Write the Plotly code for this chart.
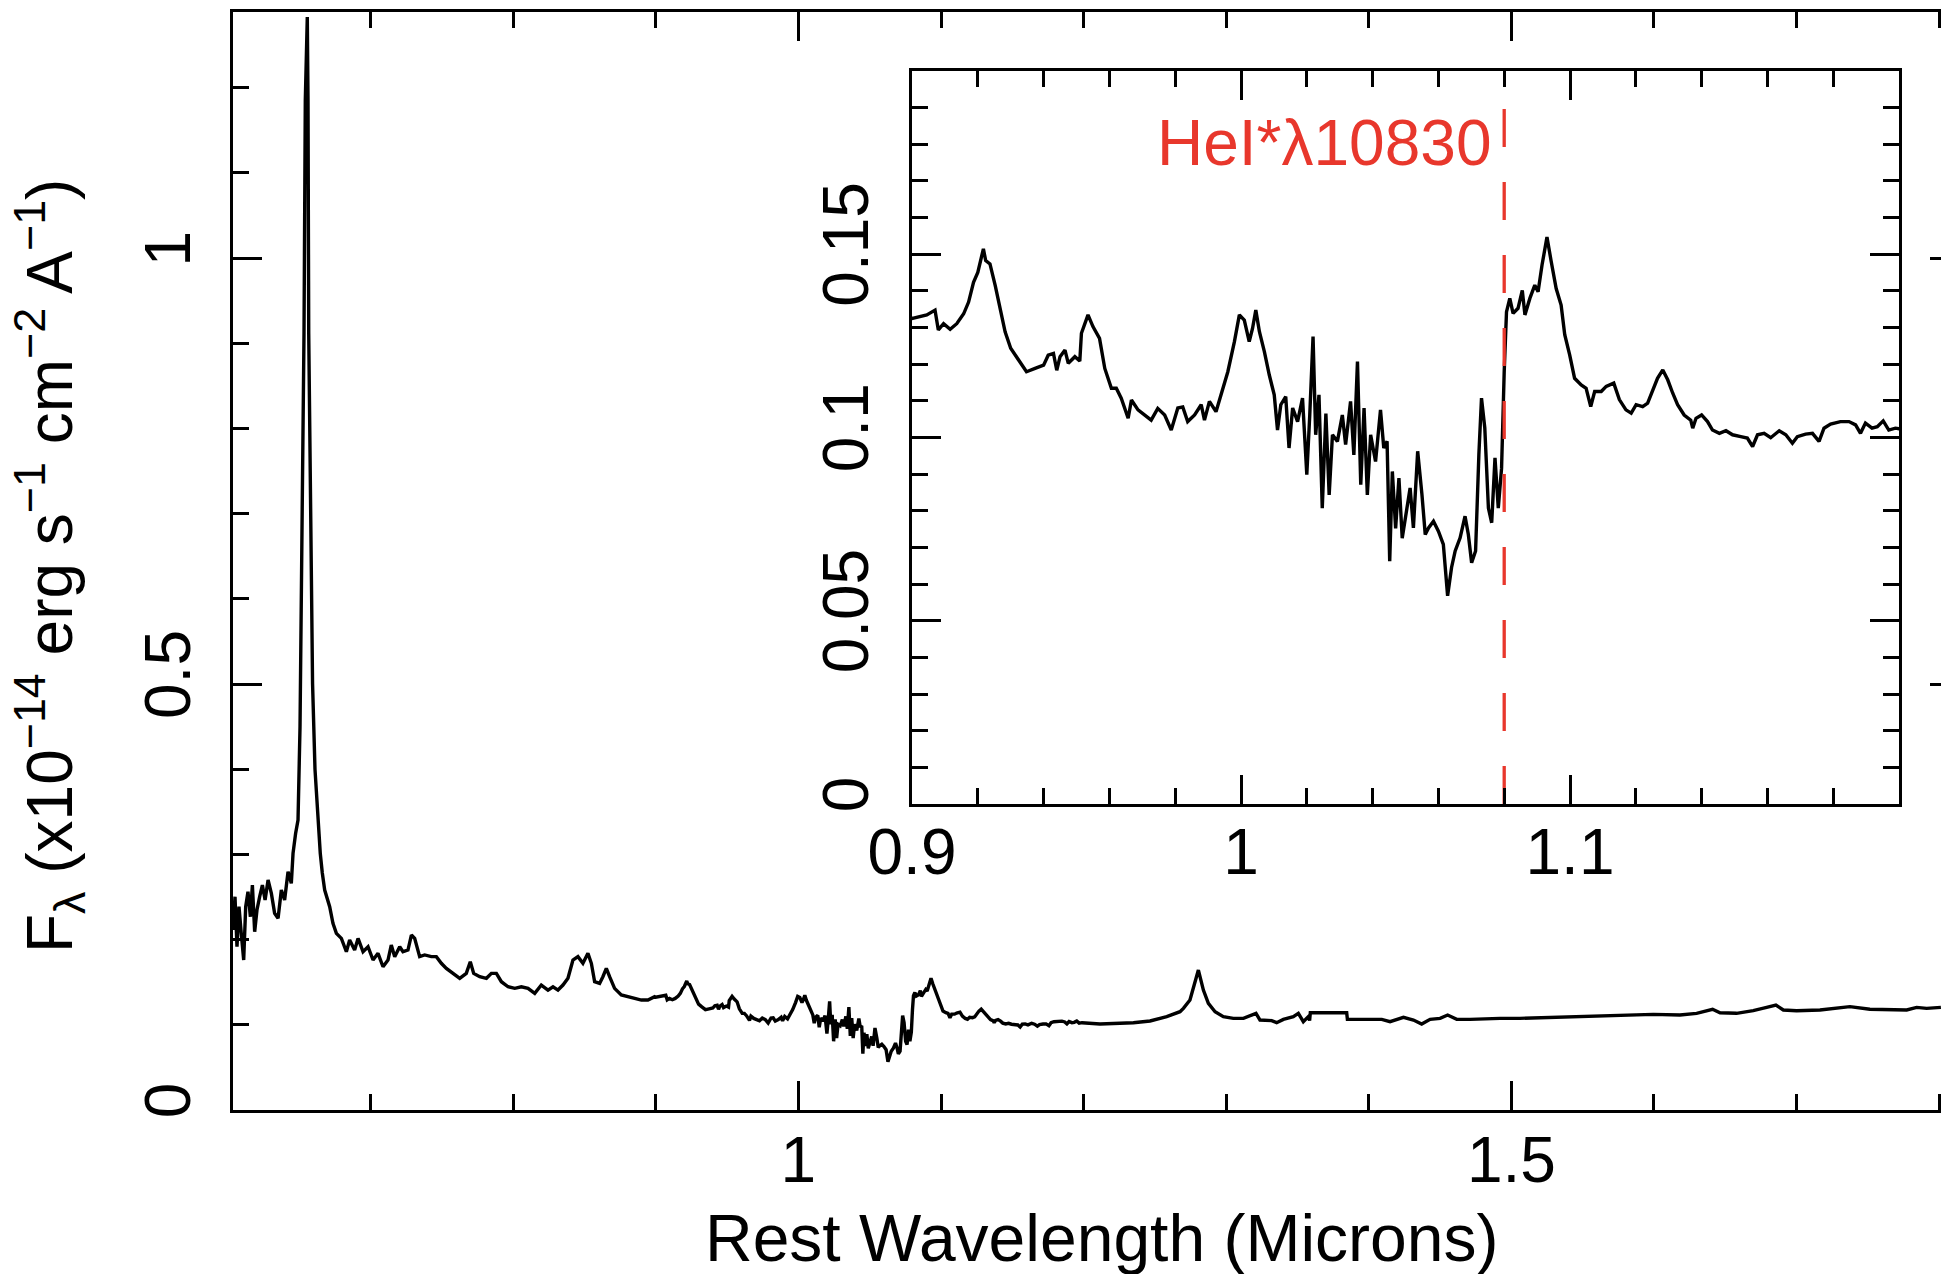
import plotly.graph_objects as go

W, H = 1975, 1274   # the picture shows the left 1941 px; the main box ends just past the edge

# ---------------- data ----------------
# rest wavelength (microns) / flux (1e-14 erg s-1 cm-2 A-1), blue part incl. H-alpha
wave_blue = [0.6035, 0.6049, 0.6063, 0.6077, 0.6093, 0.6110, 0.6124, 0.6140, 0.6157, 0.6171,
             0.6187, 0.6203, 0.6222, 0.6241, 0.6260, 0.6281, 0.6304, 0.6327, 0.6351, 0.6374,
             0.6397, 0.6421, 0.6444, 0.6456, 0.6474, 0.6491, 0.6505, 0.6514, 0.6521, 0.6533,
             0.6542, 0.6556, 0.6561, 0.6566, 0.6578, 0.6593, 0.6610, 0.6631, 0.6647, 0.6661,
             0.6678, 0.6713, 0.6736, 0.6760, 0.6795, 0.6830, 0.6853, 0.6888, 0.6912, 0.6947,
             0.6982, 0.7017, 0.7052, 0.7087, 0.7122, 0.7145, 0.7169, 0.7204, 0.7227, 0.7262,
             0.7286, 0.7309, 0.7344, 0.7379, 0.7426, 0.7461, 0.7496, 0.7531, 0.7578, 0.7625,
             0.7671, 0.7699, 0.7723, 0.7765, 0.7812, 0.7847, 0.7882, 0.7917, 0.7964, 0.8011,
             0.8057, 0.8104, 0.8151, 0.8197, 0.8244, 0.8279, 0.8314, 0.8349, 0.8384, 0.8419,
             0.8454, 0.8489, 0.8524, 0.8548, 0.8571, 0.8606, 0.8629, 0.8653, 0.8676, 0.8711,
             0.8758, 0.8805, 0.8852, 0.8899, 0.8945, 0.8992]
flux_blue = [0.2113, 0.2504, 0.1917, 0.2387, 0.2074, 0.1761, 0.2387, 0.2563, 0.2269, 0.2641,
             0.2093, 0.2348, 0.2504, 0.2641, 0.2465, 0.2700, 0.2543, 0.2309, 0.2250, 0.2582,
             0.2465, 0.2798, 0.2661, 0.3013, 0.3247, 0.3404, 0.4500, 0.5700, 0.7160, 0.9120,
             1.1850, 1.2830, 1.1850, 0.9120, 0.7160, 0.5000, 0.4000, 0.3400, 0.3013, 0.2786,
             0.2582, 0.2387, 0.2191, 0.2074, 0.2015, 0.1858, 0.1995, 0.1878, 0.2015, 0.1858,
             0.1917, 0.1761, 0.1839, 0.1682, 0.1761, 0.1937, 0.1800, 0.1917, 0.1858, 0.1878,
             0.2054, 0.2015, 0.1800, 0.1820, 0.1800, 0.1800, 0.1722, 0.1663, 0.1604, 0.1546,
             0.1604, 0.1741, 0.1604, 0.1565, 0.1546, 0.1604, 0.1604, 0.1506, 0.1447, 0.1428,
             0.1447, 0.1428, 0.1369, 0.1467, 0.1408, 0.1447, 0.1408, 0.1467, 0.1546, 0.1761,
             0.1800, 0.1722, 0.1839, 0.1722, 0.1506, 0.1486, 0.1565, 0.1663, 0.1565, 0.1428,
             0.1350, 0.1330, 0.1311, 0.1291, 0.1291, 0.1330]

# 0.9 - 1.2 micron part (shown in the inset as well)
wave_mid = [0.9000, 0.9020, 0.9045, 0.9070, 0.9080, 0.9096, 0.9116, 0.9136, 0.9157, 0.9172,
            0.9187, 0.9200, 0.9217, 0.9224, 0.9237, 0.9253, 0.9268, 0.9283, 0.9300, 0.9323,
            0.9348, 0.9374, 0.9400, 0.9414, 0.9430, 0.9440, 0.9450, 0.9465, 0.9475, 0.9495,
            0.9510, 0.9515, 0.9535, 0.9550, 0.9570, 0.9586, 0.9606, 0.9621, 0.9636, 0.9657,
            0.9667, 0.9687, 0.9707, 0.9727, 0.9747, 0.9768, 0.9788, 0.9808, 0.9823, 0.9838,
            0.9859, 0.9879, 0.9889, 0.9904, 0.9924, 0.9939, 0.9960, 0.9980, 0.9995, 1.0010,
            1.0025, 1.0035, 1.0045, 1.0056, 1.0071, 1.0086, 1.0101, 1.0111, 1.0121, 1.0136,
            1.0146, 1.0157, 1.0172, 1.0187, 1.0200, 1.0209, 1.0219, 1.0227, 1.0237, 1.0247,
            1.0258, 1.0268, 1.0278, 1.0293, 1.0308, 1.0318, 1.0333, 1.0343, 1.0354, 1.0364,
            1.0374, 1.0384, 1.0394, 1.0409, 1.0424, 1.0434, 1.0444, 1.0452, 1.0460, 1.0470,
            1.0480, 1.0490, 1.0514, 1.0524, 1.0537, 1.0550, 1.0560, 1.0570, 1.0585, 1.0600,
            1.0615, 1.0628, 1.0640, 1.0651, 1.0666, 1.0681, 1.0691, 1.0701, 1.0713, 1.0723,
            1.0731, 1.0741, 1.0752, 1.0762, 1.0772, 1.0782, 1.0792, 1.0800, 1.0807, 1.0817,
            1.0827, 1.0842, 1.0855, 1.0863, 1.0878, 1.0893, 1.0903, 1.0915, 1.0930, 1.0943,
            1.0958, 1.0973, 1.0984, 1.0999, 1.1014, 1.1034, 1.1049, 1.1063, 1.1075, 1.1095,
            1.1110, 1.1133, 1.1150, 1.1170, 1.1186, 1.1201, 1.1221, 1.1236, 1.1251, 1.1266,
            1.1282, 1.1297, 1.1312, 1.1327, 1.1347, 1.1367, 1.1373, 1.1383, 1.1400, 1.1418,
            1.1433, 1.1454, 1.1474, 1.1494, 1.1519, 1.1539, 1.1555, 1.1570, 1.1590, 1.1610,
            1.1636, 1.1656, 1.1676, 1.1691, 1.1716, 1.1737, 1.1757, 1.1772, 1.1792, 1.1822,
            1.1848, 1.1868, 1.1883, 1.1898, 1.1918, 1.1934, 1.1952, 1.1969, 1.1989]
flux_mid = [0.1324, 0.1329, 0.1334, 0.1347, 0.1293, 0.1310, 0.1295, 0.1310, 0.1337, 0.1369,
            0.1423, 0.1450, 0.1514, 0.1482, 0.1473, 0.1414, 0.1350, 0.1288, 0.1243, 0.1211,
            0.1179, 0.1188, 0.1197, 0.1224, 0.1229, 0.1183, 0.1220, 0.1238, 0.1202, 0.1220,
            0.1208, 0.1284, 0.1334, 0.1302, 0.1270, 0.1188, 0.1134, 0.1134, 0.1107, 0.1052,
            0.1102, 0.1075, 0.1061, 0.1047, 0.1079, 0.1061, 0.1020, 0.1080, 0.1083, 0.1043,
            0.1061, 0.1089, 0.1047, 0.1098, 0.1070, 0.1116, 0.1179, 0.1261, 0.1334, 0.1320,
            0.1261, 0.1297, 0.1347, 0.1288, 0.1234, 0.1170, 0.1116, 0.1020, 0.1089, 0.1111,
            0.0971, 0.1080, 0.1043, 0.1107, 0.0898, 0.1061, 0.1275, 0.1007, 0.1116, 0.0807,
            0.1065, 0.0843, 0.1007, 0.0989, 0.1061, 0.0980, 0.1098, 0.0952, 0.1207, 0.0871,
            0.1080, 0.0843, 0.1007, 0.0934, 0.1075, 0.0971, 0.0989, 0.0662, 0.0907, 0.0752,
            0.0889, 0.0725, 0.0862, 0.0753, 0.0962, 0.0844, 0.0735, 0.0753, 0.0771, 0.0744,
            0.0708, 0.0568, 0.0645, 0.0690, 0.0726, 0.0785, 0.0735, 0.0658, 0.0690, 0.0953,
            0.1107, 0.1026, 0.0807, 0.0767, 0.0944, 0.0807, 0.0916, 0.1179, 0.1342, 0.1379,
            0.1338, 0.1352, 0.1401, 0.1334, 0.1379, 0.1415, 0.1397, 0.1470, 0.1546, 0.1479,
            0.1406, 0.1361, 0.1280, 0.1225, 0.1161, 0.1143, 0.1134, 0.1084, 0.1125, 0.1125,
            0.1139, 0.1148, 0.1103, 0.1075, 0.1066, 0.1089, 0.1084, 0.1093, 0.1130, 0.1161,
            0.1184, 0.1157, 0.1121, 0.1089, 0.1061, 0.1047, 0.1025, 0.1052, 0.1061, 0.1043,
            0.1020, 0.1011, 0.1018, 0.1007, 0.1002, 0.0998, 0.0975, 0.1007, 0.1011, 0.0999,
            0.1018, 0.1007, 0.0984, 0.1002, 0.1009, 0.1011, 0.0989, 0.1025, 0.1036, 0.1043,
            0.1043, 0.1034, 0.1011, 0.1039, 0.1025, 0.1029, 0.1045, 0.1020, 0.1025]

# red part incl. Pa-beta
wave_red = [1.2115, 1.2232, 1.2349, 1.2466, 1.2583, 1.2676, 1.2700, 1.2746, 1.2782, 1.2805,
            1.2840, 1.2875, 1.2922, 1.2980, 1.3050, 1.3121, 1.3209, 1.3237, 1.3319, 1.3354,
            1.3401, 1.3471, 1.3506, 1.3541, 1.3576, 1.3585, 1.3590, 1.3845, 1.3850, 1.4091,
            1.4149, 1.4243, 1.4313, 1.4371, 1.4430, 1.4500, 1.4553, 1.4617, 1.4710, 1.4804,
            1.4920, 1.5060, 1.5294, 1.5528, 1.5761, 1.5995, 1.6182, 1.6299, 1.6411, 1.6463,
            1.6579, 1.6696, 1.6790, 1.6855, 1.6907, 1.7000, 1.7164, 1.7304, 1.7374, 1.7514,
            1.7678, 1.7772, 1.7842, 1.7912, 1.8012]
flux_red = [0.1010, 0.1017, 0.1025, 0.1045, 0.1096, 0.1154, 0.1193, 0.1291, 0.1526, 0.1643,
            0.1408, 0.1252, 0.1154, 0.1096, 0.1076, 0.1076, 0.1135, 0.1056, 0.1049, 0.1025,
            0.1064, 0.1096, 0.1135, 0.1037, 0.1096, 0.1050, 0.1142, 0.1142, 0.1064, 0.1064,
            0.1037, 0.1088, 0.1056, 0.1009, 0.1064, 0.1076, 0.1115, 0.1064, 0.1064, 0.1072,
            0.1076, 0.1076, 0.1088, 0.1096, 0.1115, 0.1123, 0.1115, 0.1135, 0.1182, 0.1142,
            0.1135, 0.1166, 0.1205, 0.1232, 0.1174, 0.1166, 0.1174, 0.1205, 0.1213, 0.1182,
            0.1182, 0.1174, 0.1205, 0.1193, 0.1205]

# axes ticks / labels
main_x_range = [0.6035, 1.8139]
main_y_range = [0.0, 1.289]
main_x_ticks = [1.0, 1.5]
main_x_ticktext = ["1", "1.5"]
main_x_minor = [0.7, 0.8, 0.9, 1.1, 1.2, 1.3, 1.4, 1.6, 1.7, 1.8]
main_y_ticks = [0.0, 0.5, 1.0]
main_y_ticktext = ["0", "0.5", "1"]
main_y_minor = [0.1, 0.2, 0.3, 0.4, 0.6, 0.7, 0.8, 0.9, 1.1, 1.2]

inset_x_range = [0.9, 1.2]
inset_y_range = [0.0, 0.2]
inset_x_ticks = [0.9, 1.0, 1.1]
inset_x_ticktext = ["0.9", "1", "1.1"]
inset_x_minor = [0.92, 0.94, 0.96, 0.98, 1.02, 1.04, 1.06, 1.08, 1.12, 1.14, 1.16, 1.18]
inset_y_ticks = [0.0, 0.05, 0.1, 0.15, 0.2]
inset_y_ticktext = ["0", "0.05", "0.1", "0.15", ""]
inset_y_minor = [0.01, 0.02, 0.03, 0.04, 0.06, 0.07, 0.08, 0.09,
                 0.11, 0.12, 0.13, 0.14, 0.16, 0.17, 0.18, 0.19]

hei_wave = 1.08
hei_line_top = 0.19
hei_label = "HeI*λ10830"
hei_label_y = 0.1804

x_title = "Rest Wavelength (Microns)"
y_title = "F<sub>λ</sub> (x10<sup>−14</sup> erg s<sup>−1</sup> cm<sup>−2</sup> A<sup>−1</sup>)"

# ---------------- figure ----------------
FONT = "Liberation Sans, Arial, Helvetica, sans-serif"
FS = 64
RED = "#e8372c"
LW = 3.4

wave = wave_blue + wave_mid + wave_red
flux = flux_blue + flux_mid + flux_red

fig = go.Figure()
fig.add_trace(go.Scatter(x=wave, y=flux, mode="lines",
                         line=dict(color="black", width=LW), xaxis="x", yaxis="y",
                         showlegend=False, hoverinfo="skip"))
fig.add_trace(go.Scatter(x=wave, y=flux, mode="lines",
                         line=dict(color="black", width=LW), xaxis="x2", yaxis="y2",
                         showlegend=False, hoverinfo="skip"))
fig.add_trace(go.Scatter(x=[hei_wave, hei_wave], y=[0, hei_line_top], mode="lines",
                         line=dict(color=RED, width=3.3, dash="38px,35px"),
                         xaxis="x2", yaxis="y2", showlegend=False, hoverinfo="skip"))

L, R, T, B = 233, 1959, 12, 1110          # main plot box (px)
iL, iR, iT, iB = 912, 1899, 70.7, 804     # inset box (px)

axis_common = dict(showgrid=False, zeroline=False, showline=True, linecolor="black",
                   linewidth=2.8, ticks="inside", tickcolor="black", tickwidth=2.6,
                   ticklen=29, tickfont=dict(family=FONT, size=FS, color="black"),
                   tickmode="array", automargin=False, mirror="ticks")
minor_common = dict(tickmode="array", ticks="inside", ticklen=16, tickwidth=2.6,
                    tickcolor="black")

fig.update_layout(
    template="none",
    width=W, height=H, autosize=False,
    margin=dict(l=0, r=0, t=0, b=0, pad=0),
    paper_bgcolor="white", plot_bgcolor="white",
    font=dict(family=FONT, size=FS, color="black"),
    xaxis=dict(axis_common, domain=[L / W, R / W], range=main_x_range,
               tickvals=main_x_ticks, ticktext=main_x_ticktext,
               ticklabelstandoff=-8, anchor="y",
               minor=dict(minor_common, tickvals=main_x_minor)),
    yaxis=dict(axis_common, domain=[1 - B / H, 1 - T / H], range=main_y_range,
               tickvals=main_y_ticks, ticktext=main_y_ticktext,
               tickangle=-90, ticklabelstandoff=15, anchor="x",
               minor=dict(minor_common, tickvals=main_y_minor)),
    xaxis2=dict(axis_common, domain=[iL / W, iR / W], range=inset_x_range,
                tickvals=inset_x_ticks, ticktext=inset_x_ticktext,
                ticklabelstandoff=-10, anchor="y2",
                minor=dict(minor_common, tickvals=inset_x_minor)),
    yaxis2=dict(axis_common, domain=[1 - iB / H, 1 - iT / H], range=inset_y_range,
                tickvals=inset_y_ticks, ticktext=inset_y_ticktext,
                tickangle=-90, ticklabelstandoff=16, anchor="x2",
                minor=dict(minor_common, tickvals=inset_y_minor)),
)

fig.add_annotation(text=hei_label, xref="x2", yref="y2", x=hei_wave - 0.0035, y=hei_label_y,
                   xanchor="right", yanchor="middle", showarrow=False,
                   font=dict(family=FONT, size=FS, color=RED))
fig.add_annotation(text=x_title, xref="paper", yref="paper", x=1101 / W, y=1 - 1238 / H,
                   xanchor="center", yanchor="middle", showarrow=False,
                   font=dict(family=FONT, size=66, color="black"))
fig.add_annotation(text=y_title, xref="paper", yref="paper", x=49 / W, y=1 - 566 / H,
                   xanchor="center", yanchor="middle", showarrow=False, textangle=-90,
                   font=dict(family=FONT, size=FS, color="black"))

fig.write_html(
    "out.html",
    config={"displayModeBar": False},
    post_script=("document.body.style.margin='0';"
                 "document.documentElement.style.overflow='hidden';"
                 "document.body.style.overflow='hidden';"),
)
